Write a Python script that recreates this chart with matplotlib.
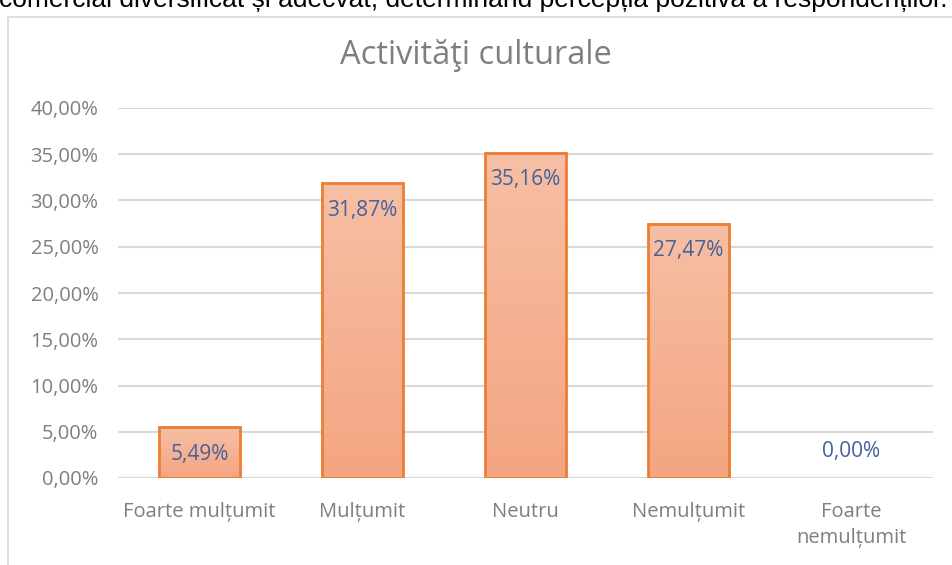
import matplotlib.pyplot as plt
import numpy as np
from matplotlib.patches import Rectangle

plt.rcParams['font.family'] = ['Open Sans', 'DejaVu Sans']

categorii = ["Foarte mulțumit", "Mulțumit", "Neutru", "Nemulțumit", "Foarte\nnemulțumit"]
valori = [5.49, 31.87, 35.16, 27.47, 0.00]
etichete = ["5,49%", "31,87%", "35,16%", "27,47%", "0,00%"]
yticks = [0, 5, 10, 15, 20, 25, 30, 35, 40]

fig = plt.figure(figsize=(9.52, 5.65), dpi=100)

# text cut off from the document above the chart
fig.text(0.497, 1 - 7/565, "comercial diversificat și adecvat, determinând percepția pozitivă a respondenților.",
         ha="center", va="baseline", fontsize=19, color="black", family=["Liberation Sans", "DejaVu Sans"])

# chart frame
fig.patches.append(Rectangle((8/952, -0.1), 1.2, 1 - 17/565 + 0.1, transform=fig.transFigure,
                             facecolor="white", edgecolor="#D9D9D9", linewidth=1.2, zorder=0))

ax = fig.add_axes([118/952, 87/565, 815/952, 370/565])
ax.set_zorder(2)
ax.set_facecolor("none")
x = np.arange(len(categorii))

for sp in ax.spines.values():
    sp.set_visible(False)
ax.set_yticks(yticks)
ax.set_yticklabels([f"{v:.2f}%".replace(".", ",") for v in yticks])
ax.yaxis.grid(True, color="#D9D9D9", linewidth=1.5)
ax.set_axisbelow(True)
ax.axhline(0, color="#D9D9D9", linewidth=1.5, zorder=1)
ax.tick_params(axis="both", length=0, labelsize=14.5, colors="#7F7F7F")
ax.tick_params(axis="y", pad=14)
ax.tick_params(axis="x", pad=17)
ax.set_xticks(x)
ax.set_xticklabels(categorii, linespacing=1.45)

grad = np.linspace(0, 1, 256).reshape(-1, 1)
cmap = plt.matplotlib.colors.LinearSegmentedColormap.from_list("g", ["#F4A582", "#F7BFA4"])
w = 0.5
for xi, v, lab in zip(x, valori, etichete):
    if v > 0:
        ax.imshow(grad, extent=(xi - w/2, xi + w/2, 0, v), origin="lower", cmap=cmap,
                  aspect="auto", zorder=2)
        ax.add_patch(Rectangle((xi - w/2, 0), w, v, facecolor="none", edgecolor="#ED7D31",
                               linewidth=2, zorder=3))
        off = -27
    else:
        off = 26
    ax.annotate(lab, (xi, v), xytext=(0, off), textcoords="offset pixels",
                ha="center", va="center", fontsize=15, color="#44609E", zorder=4)
ax.set_xlim(-0.5, len(categorii) - 0.5)
ax.set_ylim(0, 40)

fig.text(0.5, 1 - 56/565, "Activităţi culturale", ha="center", va="center", fontsize=23.5, color="#7F7F7F")

fig.savefig("out.png", dpi=100)
